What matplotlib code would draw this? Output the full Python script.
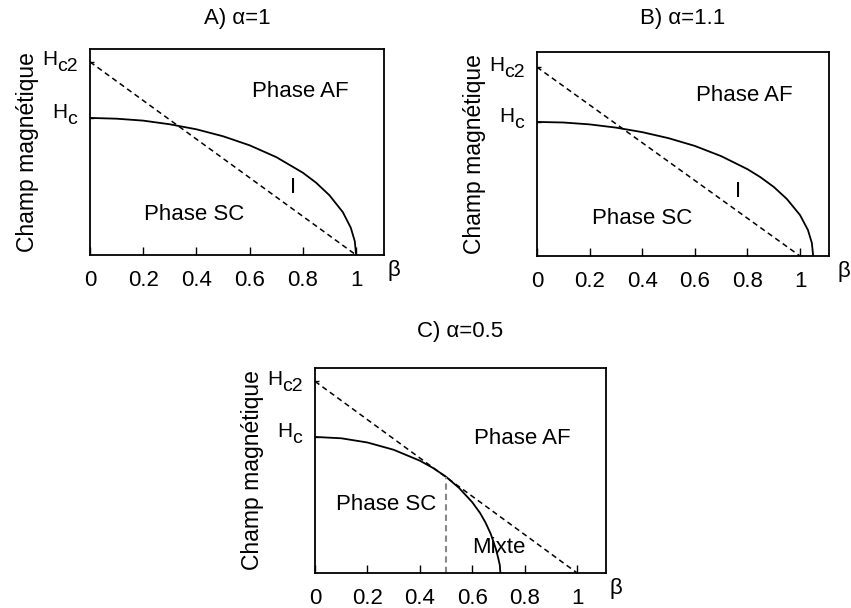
import matplotlib
matplotlib.use("Agg")
import matplotlib.pyplot as plt
from matplotlib.transforms import offset_copy

plt.rcParams['font.family'] = ['Liberation Sans', 'DejaVu Sans']

# ---- data ----
Hc2 = 1.0
Hc = 0.71
xticks = [0, 0.2, 0.4, 0.6, 0.8, 1]
xticklabels = ['0', '0.2', '0.4', '0.6', '0.8', '1']

dash_beta = [0, 1]
dash_H = [1.0, 0.0]

beta_A = [0, 0.1, 0.2, 0.3, 0.4, 0.5, 0.6, 0.7, 0.8, 0.85, 0.9, 0.95, 0.98, 0.995, 1.0]
H_A = [0.71, 0.706, 0.696, 0.677, 0.651, 0.615, 0.568, 0.507, 0.426, 0.374, 0.309, 0.222, 0.141, 0.071, 0.0]

beta_B = [0, 0.1, 0.2, 0.3, 0.4, 0.5, 0.6, 0.7, 0.8, 0.85, 0.9, 0.95, 1.0, 1.03, 1.045, 1.05]
H_B = [0.71, 0.707, 0.697, 0.680, 0.656, 0.624, 0.583, 0.529, 0.460, 0.417, 0.366, 0.302, 0.217, 0.138, 0.069, 0.0]

beta_C = [0, 0.1, 0.2, 0.3, 0.4, 0.45, 0.5, 0.55, 0.6, 0.63, 0.65, 0.67, 0.69, 0.70, 0.705, 0.707]
H_C = [0.71, 0.703, 0.681, 0.643, 0.586, 0.548, 0.502, 0.443, 0.369, 0.312, 0.264, 0.205, 0.125, 0.071, 0.040, 0.0]

beta_vert = [0.5, 0.5]
H_vert = [0.0, 0.502]

titles = ['A) α=1', 'B) α=1.1', 'C) α=0.5']

fig = plt.figure(figsize=(8.51, 6.08), dpi=100)
axA = fig.add_axes([0.1058, 0.5806, 0.3455, 0.3388])
axB = fig.add_axes([0.6310, 0.5789, 0.3431, 0.3355])
axC = fig.add_axes([0.3702, 0.0576, 0.3419, 0.3372])

FS = 16


def hlabel(ax, y, sub, xoff_px, dy):
    tr = ax.get_yaxis_transform()
    t_h = offset_copy(tr, fig=fig, x=-xoff_px, y=dy, units='dots')
    t_s = offset_copy(tr, fig=fig, x=-xoff_px, y=dy - 7, units='dots')
    ax.text(0, y, 'H', transform=t_h, fontsize=15, ha='right', va='center')
    ax.text(0, y, sub, transform=t_s, fontsize=14, ha='left', va='center')


def setup(ax, title, xmax, ymax, tpad, bx):
    ax.set_xlim(0, xmax)
    ax.set_ylim(0, ymax)
    ax.set_xticks(xticks)
    ax.set_xticklabels(xticklabels, fontsize=FS)
    ax.set_yticks([Hc, Hc2])
    ax.set_yticklabels(['', ''])
    ax.tick_params(axis='x', direction='in', length=6, width=1, pad=10.5)
    ax.tick_params(axis='y', direction='in', length=3, width=1)
    for s in ax.spines.values():
        s.set_linewidth(1.3)
    ax.set_ylabel('Champ magnétique', fontsize=FS + 0.5, labelpad=33)
    ax.set_title(title, fontsize=FS, pad=tpad)
    ax.text(bx, -0.075, 'β', transform=ax.transAxes, fontsize=FS,
            ha='left', va='center')
    hlabel(ax, Hc2, 'c2', 33, 2)
    hlabel(ax, Hc, 'c', 23, 5)

setup(axA, titles[0], 1.105, 1.067, 18, 1.012)
setup(axB, titles[1], 1.11, 1.08, 20, 1.028)
setup(axC, titles[2], 1.11, 1.07, 22, 1.012)

for ax in (axA, axB, axC):
    ax.plot(dash_beta, dash_H, color='black', lw=1.1, ls=(0, (3.5, 2.5)))

axA.plot(beta_A, H_A, color='black', lw=1.3)
axB.plot(beta_B, H_B, color='black', lw=1.3)
axC.plot(beta_C, H_C, color='black', lw=1.3)
axC.plot(beta_vert, H_vert, color='#888888', lw=1.5, ls=(0, (3, 2)))

axA.text(0.79, 0.845, 'Phase AF', fontsize=FS, ha='center', va='center')
axA.text(0.39, 0.21, 'Phase SC', fontsize=FS, ha='center', va='center')
axA.text(0.763, 0.35, 'I', fontsize=FS, ha='center', va='center')

axB.text(0.79, 0.85, 'Phase AF', fontsize=FS, ha='center', va='center')
axB.text(0.40, 0.20, 'Phase SC', fontsize=FS, ha='center', va='center')
axB.text(0.765, 0.34, 'I', fontsize=FS, ha='center', va='center')

axC.text(0.79, 0.70, 'Phase AF', fontsize=FS, ha='center', va='center')
axC.text(0.27, 0.355, 'Phase SC', fontsize=FS, ha='center', va='center')
axC.text(0.70, 0.135, 'Mixte', fontsize=FS, ha='center', va='center')

fig.savefig('out.png', dpi=100)
